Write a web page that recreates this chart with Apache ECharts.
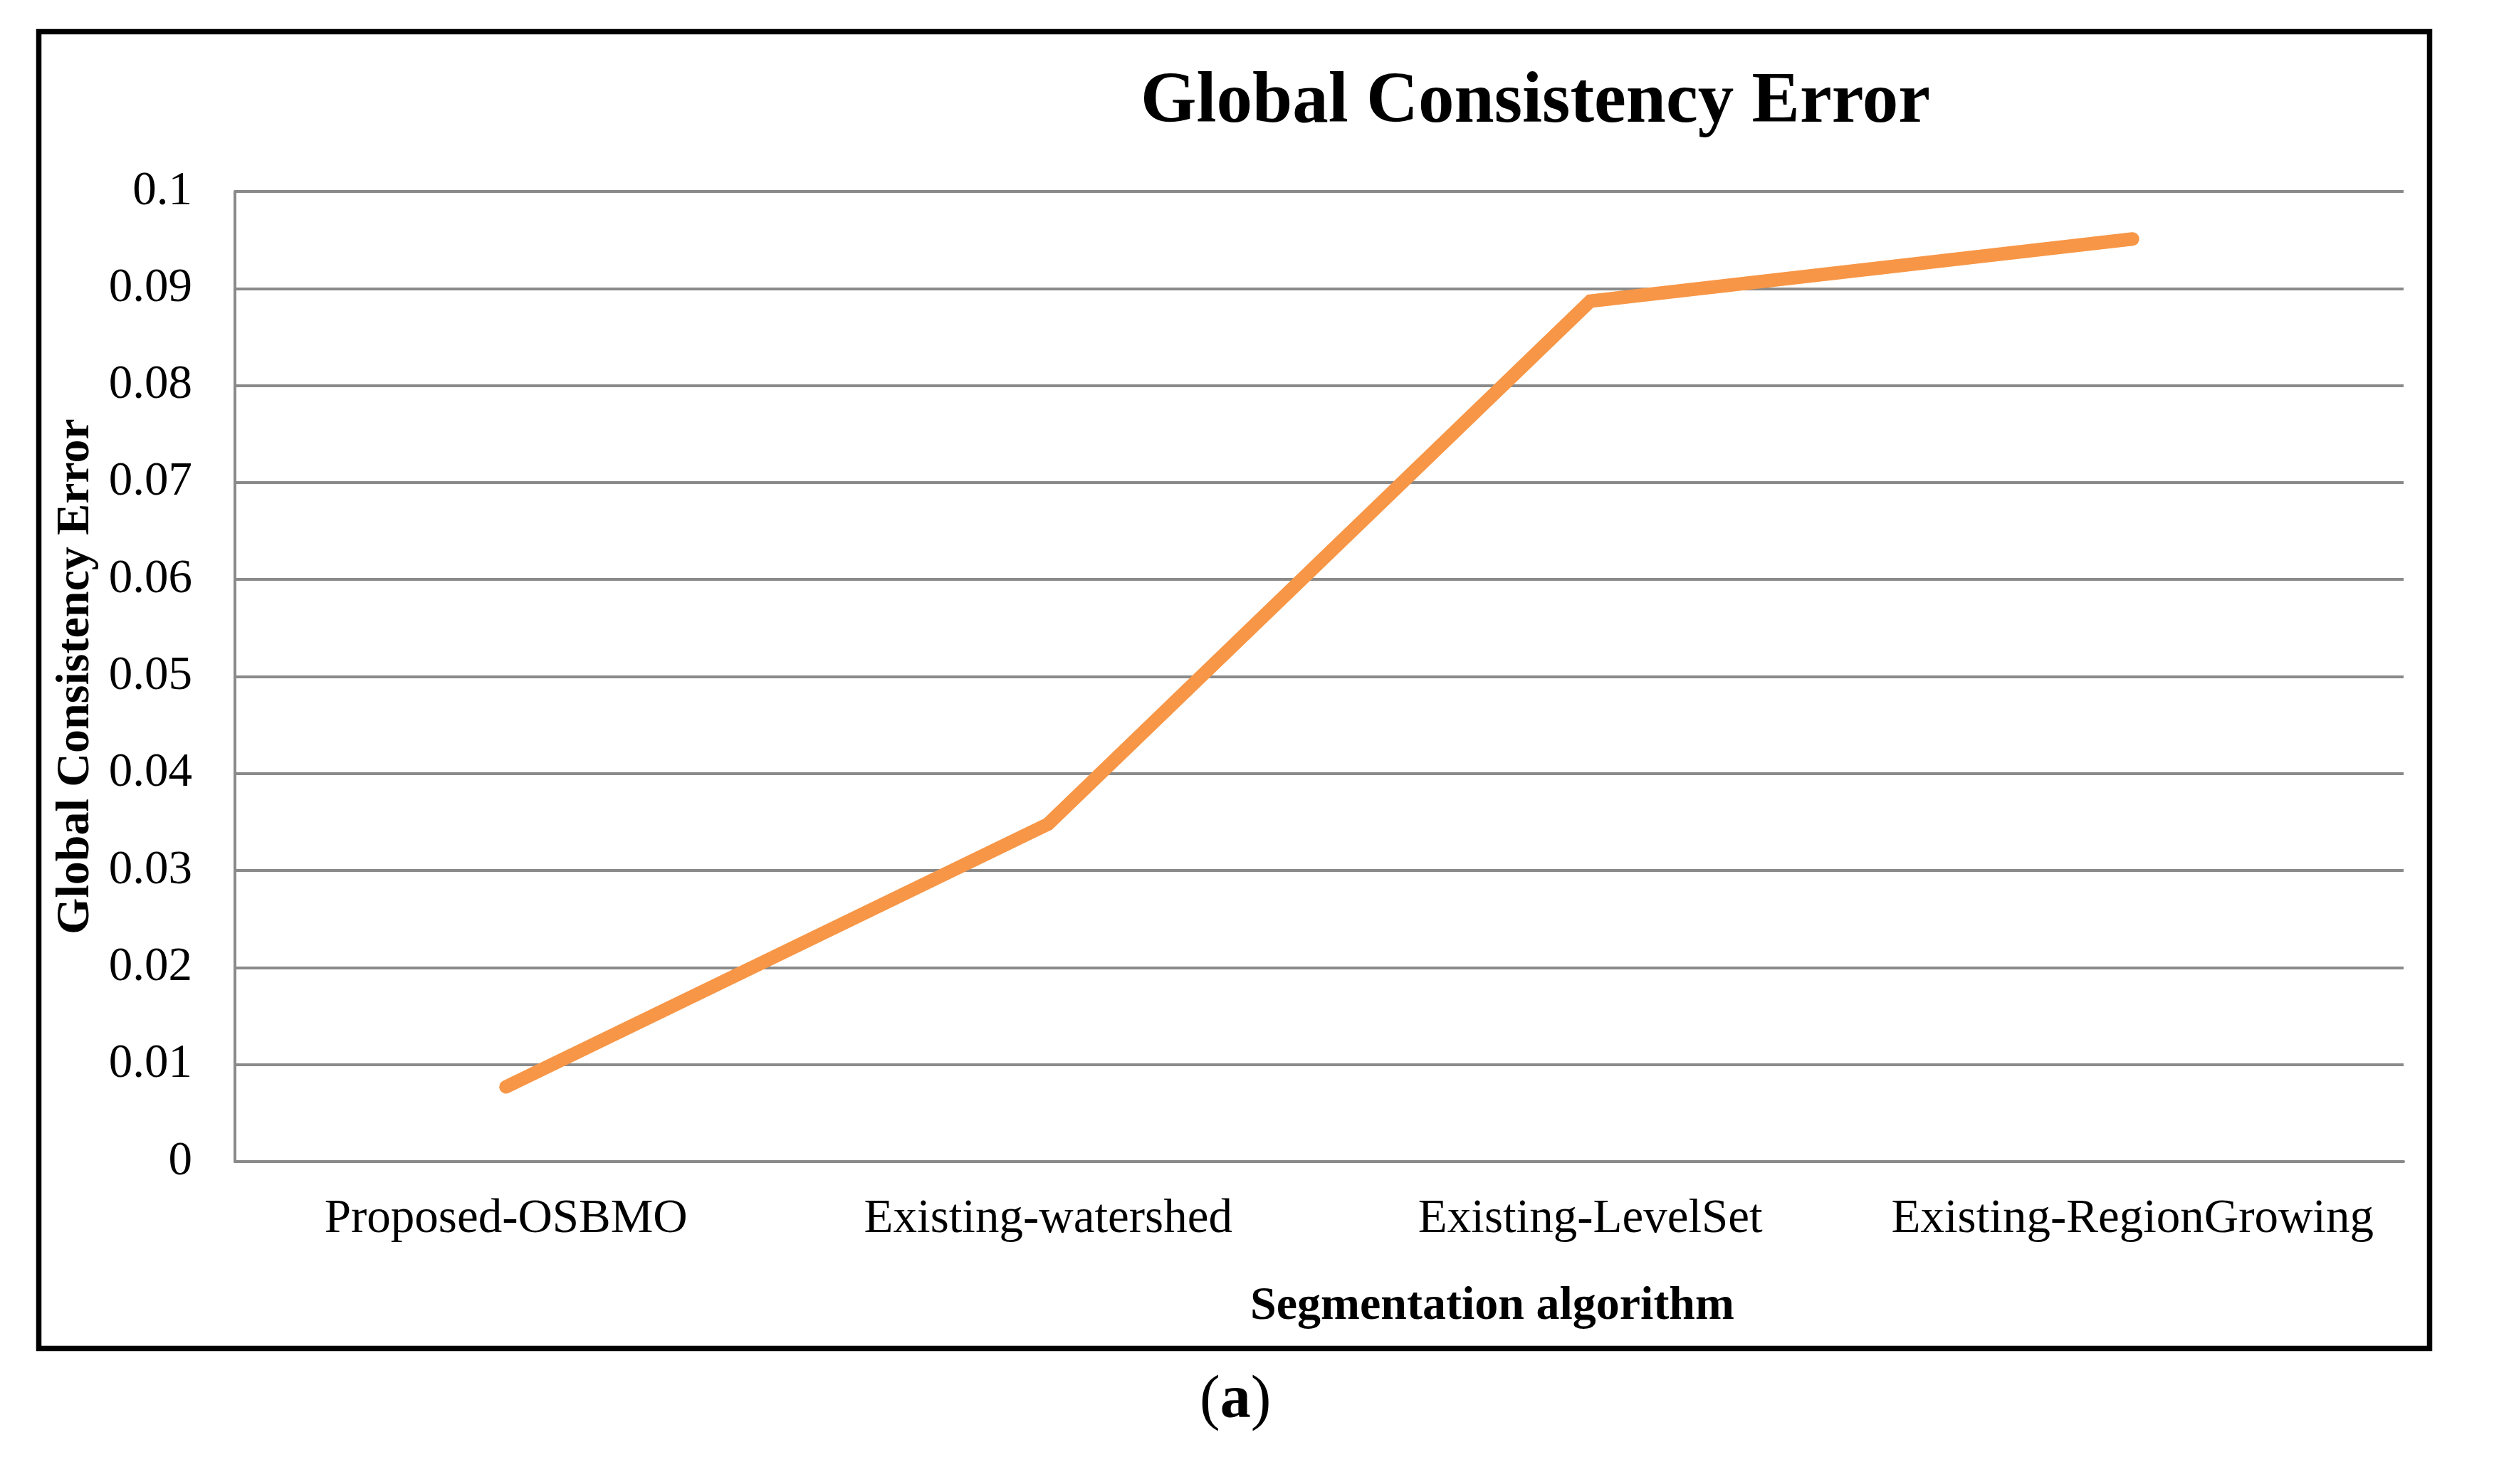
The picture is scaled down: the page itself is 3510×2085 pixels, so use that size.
<!DOCTYPE html>
<html>
<head>
<meta charset="utf-8">
<script src="https://cdn.jsdelivr.net/npm/echarts@6/dist/echarts.min.js"></script>
<style>
html,body{margin:0;padding:0;background:#fff;}
#chart{width:3510px;height:2085px;}
</style>
</head>
<body>
<div id="chart"></div>
<script>
const categories = ['Proposed-OSBMO', 'Existing-watershed', 'Existing-LevelSet', 'Existing-RegionGrowing'];
const gceValues = [0.0077, 0.0348, 0.0887, 0.0951];
const yTickLabels = ['0', '0.01', '0.02', '0.03', '0.04', '0.05', '0.06', '0.07', '0.08', '0.09', '0.1'];

const chartTitle = 'Global Consistency Error';
const xAxisName = 'Segmentation algorithm';
const yAxisName = 'Global Consistency Error';

const FONT = '"Liberation Serif", "Times New Roman", serif';
const GRID = '#8a8a8a';

const chart = echarts.init(document.getElementById('chart'), null, {renderer: 'canvas'});
chart.setOption({
  backgroundColor: '#ffffff',
  animation: false,
  title: {
    text: chartTitle,
    left: 1602,
    top: 94,
    padding: 0,
    textStyle: {fontFamily: FONT, fontWeight: 'bold', fontSize: 101, color: '#000'}
  },
  grid: {left: 330, right: 134, top: 269, bottom: 453, containLabel: false},
  xAxis: {
    type: 'category',
    data: categories,
    boundaryGap: true,
    axisLine: {show: true, lineStyle: {color: GRID, width: 4}},
    axisTick: {show: false},
    axisLabel: {fontFamily: FONT, fontSize: 67, color: '#000', margin: 48, interval: 0},
    name: xAxisName,
    nameLocation: 'middle',
    nameGap: 171,
    nameTextStyle: {fontFamily: FONT, fontWeight: 'bold', fontSize: 66, color: '#000', padding: [0, 0, 0, 486]}
  },
  yAxis: {
    type: 'value',
    min: 0,
    max: 0.1,
    interval: 0.01,
    axisLine: {show: true, lineStyle: {color: GRID, width: 4}},
    axisTick: {show: false},
    splitLine: {show: true, lineStyle: {color: GRID, width: 4}},
    axisLabel: {
      fontFamily: FONT, fontSize: 67, color: '#000', margin: 60,
      formatter: function (v) { return yTickLabels[Math.round(v / 0.01)]; }
    },
    name: yAxisName,
    nameLocation: 'middle',
    nameGap: 190,
    nameTextStyle: {fontFamily: FONT, fontWeight: 'bold', fontSize: 66, color: '#000'}
  },
  series: [{
    type: 'line',
    data: gceValues,
    symbol: 'none',
    lineStyle: {color: '#F79646', width: 19, cap: 'round', join: 'miter'},
    itemStyle: {color: '#F79646'}
  }],
  graphic: [
    {
      type: 'rect',
      shape: {x: 54.5, y: 44.5, width: 3358, height: 1850},
      style: {fill: null, stroke: '#000', lineWidth: 7.5},
      silent: true
    },
    {
      type: 'text',
      left: 1735 - 50,
      top: 1926,
      style: {
        text: '{p|(}{b|a}{p|)}',
        rich: {
          p: {fontFamily: FONT, fontSize: 86, fill: '#000'},
          b: {fontFamily: FONT, fontSize: 86, fontWeight: 'bold', fill: '#000'}
        }
      }
    }
  ]
});
</script>
</body>
</html>
